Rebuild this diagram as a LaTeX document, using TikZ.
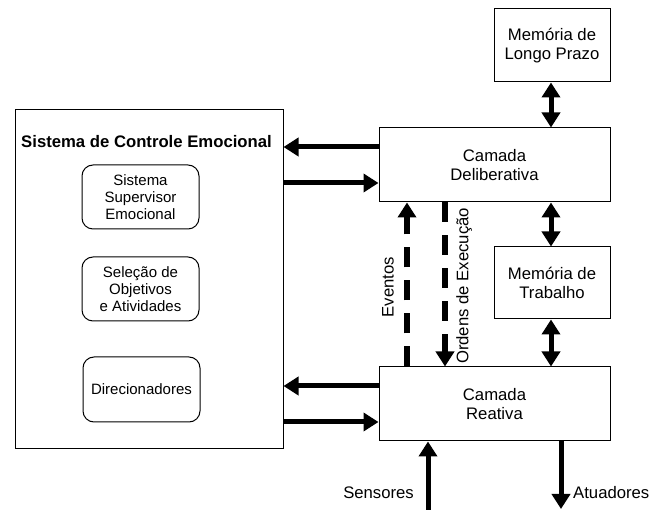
\documentclass[tikz,border=0pt]{standalone}
\usepackage{fontspec}
\setmainfont{Liberation Sans}
\usetikzlibrary{arrows.meta}
\begin{document}
\begin{tikzpicture}[x=1pt,y=-1pt,
  box/.style={draw=black,line width=1pt,align=center,inner sep=0pt,
    font=\fontsize{16.7}{19.2}\selectfont},
  subbox/.style={draw=black,line width=1pt,rounded corners=11pt,align=center,
    inner sep=0pt,minimum width=117pt,minimum height=64pt,
    font=\fontsize{15}{17.3}\selectfont},
  lbl/.style={inner sep=0pt,font=\fontsize{16.7}{19.2}\selectfont},
  flow/.style={line width=5pt,-{Triangle[length=15pt,width=18pt]}},
  dflow/.style={line width=5pt,<->,>={Triangle[length=15pt,width=18pt]}},
  event/.style={line width=6pt,dash pattern=on 20pt off 13pt,-{Triangle[length=15pt,width=18pt]}}]
\useasboundingbox (0,0) rectangle (649,510);

% emotional control system and its components
\node[box,minimum width=268pt,minimum height=339pt] (ctrl) at (149,279.5) {};
\node[lbl,font=\fontsize{16.7}{19.2}\selectfont\bfseries] (title) at (146.5,142) {Sistema de Controle Emocional};
\node[subbox] (sup) at (140.5,197) {Sistema\\Supervisor\\Emocional};
\node[subbox] (sel) at (140.5,289) {Seleção de\\Objetivos\\e Atividades};
\node[subbox,minimum height=65pt] (dir) at (141.5,389.5) {Direcionadores};

% layers and memories
\node[box,minimum width=116pt,minimum height=73pt] (longo) at (552,45.5) {Memória de\\Longo Prazo};
\node[box,minimum width=231pt,minimum height=74pt] (delib) at (494.5,165) {Camada\\Deliberativa};
\node[box,minimum width=116pt,minimum height=72pt] (trab) at (552,283) {Memória de\\Trabalho};
\node[box,minimum width=231pt,minimum height=74pt] (reat) at (494.5,404) {Camada\\Reativa};

% memory links
\draw[dflow] ([xshift=-1pt]longo.south) -- ([xshift=-1pt]longo.south |- delib.north);
\draw[dflow] ([xshift=-1pt]trab.north |- delib.south) -- ([xshift=-1pt]trab.north);
\draw[dflow] ([xshift=-1pt]trab.south) -- ([xshift=-1pt]trab.south |- reat.north);

% exchanges with the emotional control system
\coordinate (d1) at ([yshift=18pt]delib.west);
\coordinate (d2) at ([yshift=-18pt]delib.west);
\coordinate (r1) at ([yshift=18pt]reat.west);
\coordinate (r2) at ([yshift=-18pt]reat.west);
\draw[flow] (d1) -- (d1 -| ctrl.east);
\draw[flow] (d2 -| ctrl.east) -- (d2);
\draw[flow] (r1) -- (r1 -| ctrl.east);
\draw[flow] (r2 -| ctrl.east) -- (r2);

% events and execution orders between the layers
\coordinate (ev) at ([xshift=-87.5pt]reat.north);
\coordinate (ord) at ([xshift=-49.5pt]delib.south);
\draw[event] (ev) -- (ev |- delib.south);
\draw[event] (ord) -- (ord |- reat.north);
\node[lbl,rotate=90] (evl) at (388,287) {Eventos};
\node[lbl,rotate=90] (ordl) at (464,286) {Ordens de Execução};

% sensors and actuators
\coordinate (sens) at (428,510);
\coordinate (atu) at (561,509);
\draw[flow] (sens) -- (sens |- reat.south);
\draw[flow] (atu |- reat.south) -- (atu);
\node[lbl,anchor=east] (sensl) at (414,493) {Sensores};
\node[lbl,anchor=west] (atul) at (573,493) {Atuadores};
\end{tikzpicture}
\end{document}
